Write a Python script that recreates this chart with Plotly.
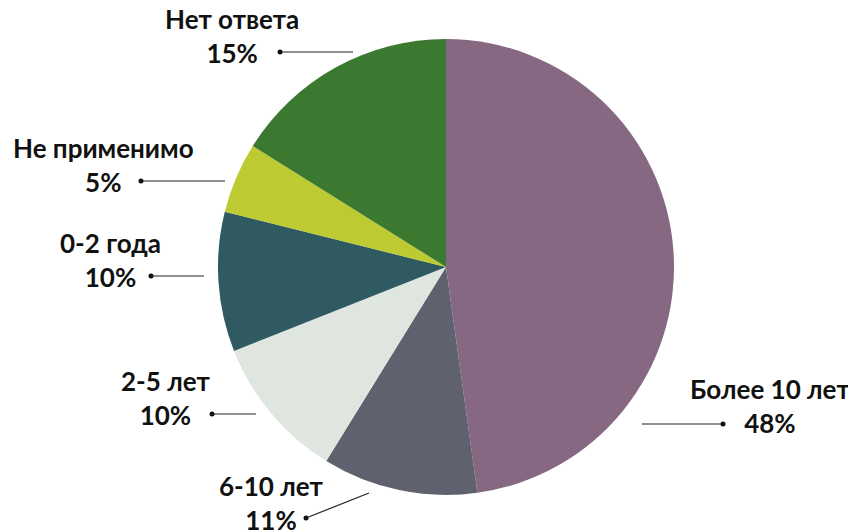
import plotly.graph_objects as go

W, H = 856, 531
OFF = 8  # page body margin

categories = ['Более 10 лет', '6-10 лет', '2-5 лет', '0-2 года', 'Не применимо', 'Нет ответа']
values = [47.8, 11.0, 10.2, 9.9, 5.0, 16.1]
pct_labels = ['48%', '11%', '10%', '10%', '5%', '15%']
colors = ['#866882', '#5f626e', '#dfe5df', '#2f5a62', '#bdca32', '#3b7830']

# label placement in window pixels: text centre, then leader line (dot end, pie end)
label_pos = {
    'Более 10 лет': (770, 406),
    '6-10 лет': (271, 503),
    '2-5 лет': (166, 398),
    '0-2 года': (110, 260),
    'Не применимо': (103, 165),
    'Нет ответа': (232, 36),
}
leaders = {
    'Более 10 лет': ((723, 424), (642, 424)),
    '6-10 лет': ((306, 518), (369, 493)),
    '2-5 лет': ((212, 414), (256, 414)),
    '0-2 года': ((151, 276), (204, 276)),
    'Не применимо': ((141, 181), (225, 181)),
    'Нет ответа': ((280, 52), (353, 52)),
}


def px(x, y):
    return (x - OFF) / W, 1 - (y - OFF) / H


cx, cy, r = 446, 267, 228
dx0, dy1 = px(cx - r, cy - r)
dx1, dy0 = px(cx + r, cy + r)

fig = go.Figure(go.Pie(
    labels=categories,
    values=values,
    marker=dict(colors=colors, line=dict(width=0)),
    sort=False,
    direction='clockwise',
    rotation=0,
    textinfo='none',
    hoverinfo='label+percent',
    domain=dict(x=[dx0, dx1], y=[dy0, dy1]),
))

shapes = []
annotations = []
for cat, pct in zip(categories, pct_labels):
    (ax, ay), (ex, ey) = leaders[cat]
    x0, y0 = px(ax, ay)
    x1, y1 = px(ex, ey)
    shapes.append(dict(type='line', xref='paper', yref='paper', x0=x0, y0=y0, x1=x1, y1=y1,
                       line=dict(color='#222222', width=1.2)))
    c0x, c0y = px(ax - 2.5, ay + 2.5)
    c1x, c1y = px(ax + 2.5, ay - 2.5)
    shapes.append(dict(type='circle', xref='paper', yref='paper', x0=c0x, x1=c1x, y0=c0y, y1=c1y,
                       fillcolor='#111111', line=dict(width=0)))
    tx, ty = px(*label_pos[cat])
    annotations.append(dict(text=cat + '<br>' + pct, x=tx, y=ty, xref='paper', yref='paper',
                            xanchor='center', yanchor='middle', align='center', showarrow=False,
                            font=dict(family='Lato', size=26, color='#111111', weight=700)))

fig.update_layout(
    width=W, height=H,
    margin=dict(l=0, r=0, t=0, b=0),
    showlegend=False,
    paper_bgcolor='white',
    shapes=shapes,
    annotations=annotations,
)

fig.write_html("out.html")
